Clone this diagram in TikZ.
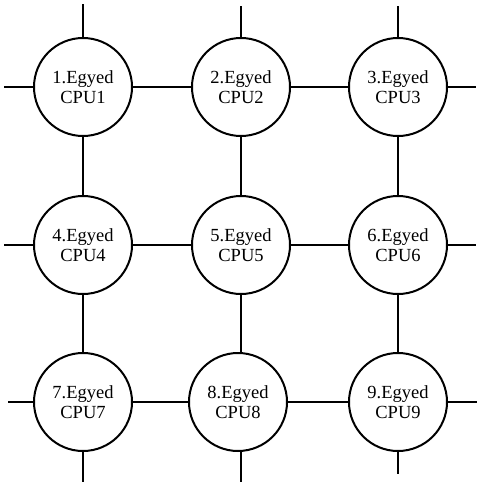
\documentclass[tikz,border=0pt]{standalone}
\usepackage{fontspec}
\setmainfont{Liberation Serif}
\begin{document}
\begin{tikzpicture}[x=1pt,y=-1pt,
  cpu/.style={circle,draw,line width=2pt,minimum size=98pt,inner sep=0pt,
    align=center,font=\fontsize{18.5}{20}\selectfont},
  link/.style={line width=2pt}]
\useasboundingbox (0,0) rectangle (482,487);
\node[cpu] (c1) at (83,87) {1.Egyed\\CPU1};
\node[cpu] (c2) at (241,87) {2.Egyed\\CPU2};
\node[cpu] (c3) at (398,87) {3.Egyed\\CPU3};
\node[cpu] (c4) at (83,245) {4.Egyed\\CPU4};
\node[cpu] (c5) at (241,245) {5.Egyed\\CPU5};
\node[cpu] (c6) at (398,245) {6.Egyed\\CPU6};
\node[cpu] (c7) at (83,402) {7.Egyed\\CPU7};
\node[cpu] (c8) at (238,402) {8.Egyed\\CPU8};
\node[cpu] (c9) at (398,402) {9.Egyed\\CPU9};
% free ends
\coordinate (t1) at (83,4);  \coordinate (t2) at (241,6); \coordinate (t3) at (398,6);
\coordinate (l1) at (4,87); \coordinate (l2) at (4,245); \coordinate (l3) at (8,402);
\coordinate (r1) at (476,87); \coordinate (r2) at (476,245); \coordinate (r3) at (477,402);
\coordinate (b1) at (83,482); \coordinate (b2) at (241,482); \coordinate (b3) at (398,474);
% internal links
\draw[link] (c1) -- (c2); \draw[link] (c2) -- (c3);
\draw[link] (c4) -- (c5); \draw[link] (c5) -- (c6);
\draw[link] (c7) -- (c8); \draw[link] (c8) -- (c9);
\draw[link] (c1) -- (c4); \draw[link] (c4) -- (c7);
\draw[link] (c2) -- (c5); \draw[link] (c5.south) -- (c8.north-|c5.south);
\draw[link] (c3) -- (c6); \draw[link] (c6) -- (c9);
% stubs
\draw[link] (c1) -- (t1); \draw[link] (c2) -- (t2); \draw[link] (c3) -- (t3);
\draw[link] (c1) -- (l1); \draw[link] (c4) -- (l2); \draw[link] (c7) -- (l3);
\draw[link] (c3) -- (r1); \draw[link] (c6) -- (r2); \draw[link] (c9) -- (r3);
\draw[link] (c7) -- (b1); \draw[link] (c8.south-|b2) -- (b2); \draw[link] (c9) -- (b3);
\end{tikzpicture}
\end{document}
